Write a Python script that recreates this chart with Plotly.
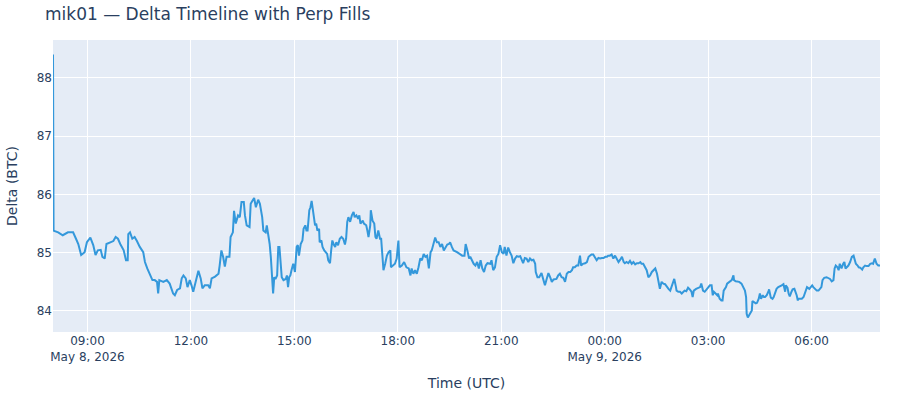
import plotly.graph_objects as go
import pandas as pd

# minutes since 2026-05-08 08:00 UTC, delta
minutes = [
    0, 1, 9, 17, 26, 35, 40, 44, 49, 55, 59, 65, 70, 74, 78, 83, 86, 90, 93, 99,
    105, 109, 113, 117, 123, 127, 130, 131, 134, 138, 142, 146, 151, 157, 160, 164, 168, 173, 177, 181,
    183, 185, 192, 198, 203, 206, 209, 212, 216, 221, 224, 227, 231, 234, 238, 241, 244, 249, 253, 257,
    260, 264, 270, 273, 276, 282, 288, 290, 293, 296, 299, 302, 307, 309, 313, 315, 318, 322, 325, 328,
    332, 334, 337, 342, 344, 347, 350, 353, 357, 360, 364, 366, 370, 372, 375, 377, 379, 381, 383, 385,
    387, 390, 392, 394, 396, 398, 401, 405, 407, 409, 411, 413, 415, 418, 421, 424, 426, 428, 431, 434,
    436, 439, 441, 443, 446, 448, 450, 452, 454, 456, 458, 460, 463, 464, 467, 469, 472, 475, 477, 479,
    482, 484, 486, 489, 491, 493, 496, 499, 502, 505, 508, 510, 512, 514, 517, 520, 523, 525, 528, 531,
    533, 535, 539, 541, 545, 547, 549, 552, 553, 556, 559, 561, 563, 566, 569, 571, 573, 575, 578, 581,
    584, 587, 588, 592, 595, 598, 601, 603, 607, 611, 615, 619, 622, 624, 627, 630, 633, 636, 639, 642,
    645, 648, 651, 654, 657, 659, 662, 665, 668, 671, 674, 677, 680, 683, 686, 689, 691, 694, 697, 703,
    708, 712, 716, 718, 721, 724, 726, 729, 732, 735, 738, 741, 744, 747, 750, 753, 756, 761, 763, 766,
    769, 772, 775, 778, 781, 784, 786, 789, 792, 795, 798, 801, 804, 807, 810, 813, 815, 818, 821, 824,
    827, 830, 833, 836, 839, 840, 843, 846, 850, 853, 856, 859, 862, 865, 868, 871, 874, 876, 879, 882,
    885, 888, 891, 894, 897, 900, 903, 905, 908, 911, 914, 917, 919, 922, 926, 929, 932, 934, 937, 940,
    943, 946, 949, 952, 955, 958, 961, 964, 966, 969, 972, 975, 978, 981, 984, 987, 990, 993, 995, 998,
    1001, 1004, 1007, 1010, 1013, 1016, 1019, 1022, 1024, 1027, 1030, 1033, 1036, 1039, 1042, 1045, 1048, 1051, 1054, 1056,
    1059, 1062, 1065, 1068, 1071, 1074, 1077, 1080, 1081, 1084, 1085, 1088, 1091, 1094, 1097, 1099, 1102, 1105, 1108, 1111,
    1113, 1115, 1119, 1123, 1126, 1128, 1131, 1134, 1137, 1140, 1143, 1146, 1148, 1150, 1153, 1156, 1157, 1160, 1163, 1165,
    1167, 1171, 1173, 1177, 1181, 1184, 1185, 1188, 1191, 1194, 1198, 1201, 1204, 1206, 1207, 1209, 1211, 1214, 1216, 1217,
    1220, 1223, 1225, 1228, 1230, 1232, 1235, 1237, 1239, 1242, 1245, 1246, 1249, 1252, 1254, 1257, 1259, 1262, 1265, 1268,
    1271, 1274, 1275, 1278, 1280, 1282, 1285, 1287, 1290, 1292, 1294, 1296, 1297, 1300, 1303, 1306, 1308, 1310, 1312, 1316,
    1318, 1321, 1323, 1326, 1329, 1332, 1335, 1337, 1339, 1342, 1346, 1349, 1352, 1355, 1358, 1360, 1362, 1365, 1367, 1369,
    1372, 1375, 1377, 1379, 1381, 1384, 1387, 1390, 1393, 1395, 1397, 1400, 1402, 1405, 1408, 1410, 1413, 1416, 1419, 1422,
    1425, 1427, 1430, 1433, 1436, 1439,
]

delta = [
    88.40, 85.38, 85.35, 85.30, 85.35, 85.35, 85.24, 85.15, 84.96, 85.01, 85.18, 85.26, 85.13, 84.96, 85.04, 85.05, 84.93, 84.90, 85.15, 85.18,
    85.20, 85.27, 85.24, 85.15, 85.04, 84.87, 84.87, 85.32, 85.35, 85.24, 85.27, 85.20, 85.10, 85.01, 84.84, 84.73, 84.64, 84.53, 84.53, 84.50,
    84.30, 84.53, 84.50, 84.53, 84.47, 84.39, 84.30, 84.27, 84.36, 84.39, 84.56, 84.61, 84.56, 84.41, 84.53, 84.44, 84.33, 84.53, 84.69, 84.56,
    84.39, 84.44, 84.44, 84.39, 84.56, 84.59, 84.64, 84.78, 85.04, 84.93, 84.76, 84.93, 84.93, 85.27, 85.35, 85.72, 85.50, 85.64, 85.61, 85.87,
    85.87, 85.64, 85.47, 85.44, 85.84, 85.89, 85.94, 85.78, 85.91, 85.84, 85.61, 85.38, 85.35, 85.47, 85.30, 85.15, 84.93, 84.53, 84.30, 84.58,
    84.55, 84.61, 85.10, 85.10, 84.87, 84.58, 84.53, 84.55, 84.61, 84.41, 84.58, 84.61, 84.70, 84.81, 84.67, 85.10, 85.13, 84.95, 85.15, 85.21,
    85.41, 85.47, 85.38, 85.38, 85.73, 85.78, 85.89, 85.75, 85.55, 85.47, 85.50, 85.38, 85.41, 85.18, 85.21, 85.10, 85.04, 85.01, 84.98, 84.87,
    84.82, 85.04, 85.21, 85.13, 85.10, 85.18, 85.13, 85.24, 85.27, 85.24, 85.14, 85.24, 85.53, 85.61, 85.53, 85.64, 85.70, 85.61, 85.64, 85.58,
    85.64, 85.50, 85.55, 85.50, 85.47, 85.38, 85.27, 85.47, 85.73, 85.55, 85.50, 85.27, 85.24, 85.38, 85.24, 85.24, 84.95, 84.70, 84.81, 84.95,
    85.01, 85.04, 84.75, 84.78, 84.81, 84.90, 85.21, 84.75, 84.78, 84.84, 84.75, 84.73, 84.61, 84.73, 84.64, 84.70, 84.64, 84.75, 84.90, 84.87,
    84.98, 84.93, 84.95, 84.73, 85.01, 85.04, 85.18, 85.26, 85.18, 85.18, 85.10, 85.15, 85.04, 85.10, 85.14, 85.15, 85.18, 85.10, 85.04, 85.01,
    84.98, 84.95, 84.95, 85.15, 85.04, 84.90, 84.93, 84.87, 84.81, 84.78, 84.84, 84.73, 84.87, 84.73, 84.67, 84.78, 84.82, 84.81, 84.87, 84.70,
    84.75, 84.93, 84.98, 85.13, 85.01, 84.98, 85.10, 84.95, 85.09, 85.01, 84.95, 84.82, 84.90, 84.94, 84.93, 84.94, 84.90, 84.82, 84.91, 84.90,
    84.84, 84.90, 84.87, 84.88, 84.81, 84.67, 84.58, 84.58, 84.65, 84.53, 84.44, 84.55, 84.65, 84.58, 84.50, 84.54, 84.55, 84.55, 84.61, 84.64,
    84.58, 84.57, 84.50, 84.64, 84.67, 84.67, 84.70, 84.75, 84.75, 84.78, 84.78, 84.95, 84.78, 84.81, 84.82, 84.84, 84.93, 84.95, 84.97, 84.97,
    84.93, 84.87, 84.91, 84.90, 84.91, 84.91, 84.93, 84.93, 84.95, 84.95, 84.97, 84.90, 84.95, 84.88, 84.84, 84.88, 84.93, 84.84, 84.82, 84.84,
    84.82, 84.86, 84.81, 84.84, 84.80, 84.82, 84.82, 84.84, 84.81, 84.81, 84.75, 84.70, 84.58, 84.61, 84.67, 84.70, 84.73, 84.64, 84.50, 84.38,
    84.50, 84.47, 84.46, 84.41, 84.38, 84.35, 84.44, 84.53, 84.55, 84.41, 84.35, 84.33, 84.33, 84.30, 84.33, 84.35, 84.34, 84.40, 84.37, 84.33,
    84.24, 84.35, 84.38, 84.40, 84.41, 84.47, 84.35, 84.33, 84.37, 84.41, 84.44, 84.44, 84.27, 84.33, 84.30, 84.27, 84.30, 84.21, 84.18, 84.18,
    84.35, 84.41, 84.47, 84.50, 84.53, 84.61, 84.53, 84.51, 84.50, 84.50, 84.47, 84.41, 84.35, 84.24, 83.95, 83.89, 83.93, 83.98, 84.01, 84.17,
    84.15, 84.13, 84.14, 84.21, 84.30, 84.21, 84.27, 84.24, 84.24, 84.27, 84.34, 84.37, 84.23, 84.21, 84.24, 84.35, 84.38, 84.41, 84.42, 84.44,
    84.46, 84.33, 84.44, 84.40, 84.30, 84.25, 84.33, 84.37, 84.38, 84.33, 84.27, 84.18, 84.21, 84.21, 84.21, 84.24, 84.30, 84.38, 84.41, 84.38,
    84.41, 84.44, 84.41, 84.37, 84.35, 84.35, 84.38, 84.41, 84.53, 84.57, 84.58, 84.57, 84.55, 84.51, 84.53, 84.73, 84.78, 84.75, 84.70, 84.81,
    84.73, 84.81, 84.84, 84.73, 84.75, 84.78, 84.84, 84.93, 84.95, 84.87, 84.81, 84.78, 84.75, 84.74, 84.71, 84.75, 84.78, 84.77, 84.77, 84.81,
    84.82, 84.81, 84.90, 84.81, 84.78, 84.78,
]

start = pd.Timestamp("2026-05-08 08:00:00")
times = [start + pd.Timedelta(minutes=m) for m in minutes]

fig = go.Figure()
fig.add_trace(go.Scatter(
    x=times, y=delta,
    mode="lines",
    line=dict(color="#3498db", width=2),
    name="Delta",
))

fig.update_layout(
    template="plotly",
    width=900,
    height=400,
    font=dict(family="DejaVu Sans, Verdana, sans-serif"),
    title=dict(text="mik01 — Delta Timeline with Perp Fills", x=0.05, xanchor="left"),
    xaxis=dict(title="Time (UTC)"),
    yaxis=dict(title="Delta (BTC)"),
    showlegend=False,
    margin=dict(l=50, r=20, t=40, b=50),
)

# drop the default page margin so the 900x400 figure sits at the window's corner
fig.write_html("out.html", config={"displayModeBar": False},
               post_script="document.body.style.margin='0';")
